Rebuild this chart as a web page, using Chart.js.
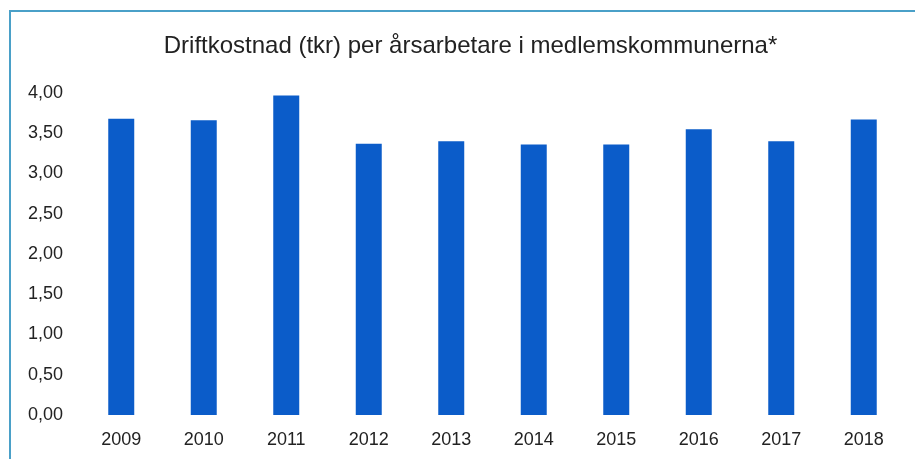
<!DOCTYPE html>
<html>
<head>
<meta charset="utf-8">
<script src="https://cdn.jsdelivr.net/npm/chart.js@4"></script>
<style>
  html, body { margin: 0; padding: 0; background: #ffffff; }
  #wrap { position: relative; width: 915px; height: 459px; overflow: hidden; background: #fff; }
  #frame { position: absolute; left: 9px; top: 10px; width: 1000px; height: 600px;
           border-left: 2px solid #4aa0c8; border-top: 2px solid #4aa0c8; }
  canvas { position: absolute; left: 0; top: 0; }
</style>
</head>
<body>
<div id="wrap">
  <div id="frame"></div>
  <canvas id="c" width="915" height="459"></canvas>
</div>
<script>
const titleText = "Driftkostnad (tkr) per årsarbetare i medlemskommunerna*";
const years = ["2009", "2010", "2011", "2012", "2013", "2014", "2015", "2016", "2017", "2018"];
const costPerEmployee = [3.68, 3.66, 3.97, 3.37, 3.40, 3.36, 3.36, 3.55, 3.40, 3.67];

const FONT = "'Liberation Sans', Arial, sans-serif";

new Chart(document.getElementById('c'), {
  type: 'bar',
  data: {
    labels: years,
    datasets: [{
      data: costPerEmployee,
      backgroundColor: '#0b5cc9',
      borderWidth: 0,
      barPercentage: 0.315,
      categoryPercentage: 1.0,
      yAxisID: 'y'
    }]
  },
  options: {
    responsive: false,
    animation: false,
    layout: { padding: { left: 26, right: 0, top: 0, bottom: 0 } },
    plugins: {
      legend: { display: false },
      tooltip: { enabled: false },
      title: {
        display: true,
        text: titleText,
        color: '#222222',
        font: { family: FONT, size: 24, weight: 'normal' },
        padding: { top: 31.6, bottom: 32.6 }
      }
    },
    scales: {
      x: {
        grid: { display: false, drawTicks: false },
        border: { display: false },
        ticks: { color: '#222222', font: { family: FONT, size: 18 }, padding: 14, maxRotation: 0 },
        afterFit: (s) => { s.height = 44; }
      },
      y: {
        min: 0,
        max: 4,
        grid: { display: false, drawTicks: false },
        border: { display: false },
        ticks: {
          stepSize: 0.5,
          color: '#222222',
          font: { family: FONT, size: 18 },
          padding: 17,
          callback: (v) => Number(v).toFixed(2).replace('.', ',')
        },
        afterFit: (s) => { s.width = 54; }
      },
      yRight: {
        position: 'right',
        display: true,
        grid: { display: false, drawTicks: false },
        border: { display: false },
        ticks: { display: false },
        afterFit: (s) => { s.width = 10; }
      }
    }
  }
});
</script>
</body>
</html>
